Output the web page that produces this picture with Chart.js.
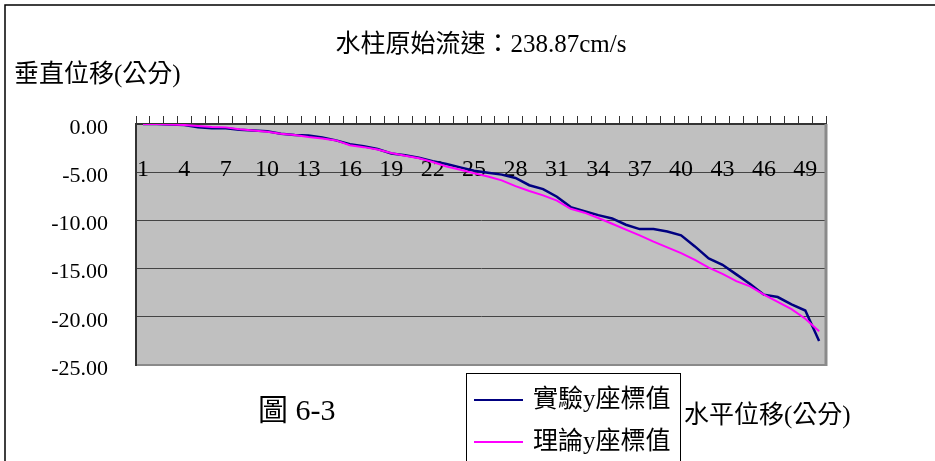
<!DOCTYPE html>
<html>
<head>
<meta charset="utf-8">
<script src="https://cdn.jsdelivr.net/npm/chart.js@4/dist/chart.umd.min.js"></script>
<style>
  html, body { margin: 0; padding: 0; background: #fff; }
  #wrap { width: 935px; height: 461px; position: relative; }
</style>
</head>
<body>
<div id="wrap"><canvas id="c" width="935" height="461"></canvas></div>
<script>
// Horizontal position index (公分) along the jet
const positions = ['1','2','3','4','5','6','7','8','9','10',
  '11','12','13','14','15','16','17','18','19','20',
  '21','22','23','24','25','26','27','28','29','30',
  '31','32','33','34','35','36','37','38','39','40',
  '41','42','43','44','45','46','47','48','49','50'];

// Measured vertical displacement (公分)
const experimental = [0, 0, -0.05, -0.1, -0.35, -0.45, -0.45, -0.6, -0.68, -0.75,
  -1.0, -1.15, -1.2, -1.4, -1.7, -2.1, -2.3, -2.6, -3.05, -3.25,
  -3.5, -3.85, -4.15, -4.5, -4.85, -5.05, -5.25, -5.6, -6.35, -6.75,
  -7.55, -8.62, -9.05, -9.45, -9.8, -10.45, -10.9, -10.9, -11.15, -11.55,
  -12.7, -13.95, -14.6, -15.6, -16.6, -17.7, -17.95, -18.7, -19.35, -22.5];

// Theoretical vertical displacement (公分)
const theoretical = [0, 0, -0.05, -0.1, -0.2, -0.3, -0.35, -0.55, -0.68, -0.8,
  -1.0, -1.15, -1.35, -1.5, -1.7, -2.2, -2.4, -2.65, -3.0, -3.3,
  -3.55, -3.95, -4.4, -4.75, -5.1, -5.45, -5.85, -6.45, -6.95, -7.4,
  -7.95, -8.8, -9.2, -9.75, -10.35, -10.95, -11.55, -12.2, -12.8, -13.4,
  -14.1, -14.9, -15.55, -16.3, -16.85, -17.7, -18.45, -19.2, -20.2, -21.5];

const yTicks = [0, -5, -10, -15, -20, -25];
const seriesNames = ['實驗y座標值', '理論y座標值'];
const seriesColors = ['#000080', '#FF00FF'];

const chartTitle = '水柱原始流速：238.87cm/s';
const yAxisTitle = '垂直位移(公分)';
const xAxisTitle = '水平位移(公分)';
const caption = '圖 6-3';

const SERIF = '"Liberation Serif", "Times New Roman", serif';
const MIXED = '"Liberation Serif", "Noto Sans CJK TC", serif';

// Background, frame, plot fill, captions and a boxed legend
const decorations = {
  id: 'decorations',
  beforeDraw(chart) {
    const { ctx, chartArea: a } = chart;
    ctx.save();
    ctx.fillStyle = '#fff';
    ctx.fillRect(0, 0, chart.width, chart.height);
    ctx.fillStyle = '#C0C0C0';
    ctx.fillRect(a.left, a.top, a.right - a.left, a.bottom - a.top);
    ctx.strokeStyle = '#000';
    ctx.lineWidth = 1.5;
    ctx.beginPath();
    ctx.moveTo(5, chart.height);
    ctx.lineTo(5, 5);
    ctx.lineTo(chart.width, 5);
    ctx.stroke();
    ctx.restore();
  },
  afterDraw(chart) {
    const { ctx, chartArea: a } = chart;
    ctx.save();
    // shaded right edge of the plot
    ctx.strokeStyle = '#8a8a8a';
    ctx.lineWidth = 3;
    ctx.beginPath();
    ctx.moveTo(a.right, a.top);
    ctx.lineTo(a.right, a.bottom + 1);
    ctx.stroke();

    ctx.fillStyle = '#000';
    ctx.textBaseline = 'middle';
    ctx.font = '25px ' + MIXED;
    ctx.textAlign = 'center';
    ctx.fillText(chartTitle, 481, 45);
    ctx.textAlign = 'left';
    ctx.fillText(yAxisTitle, 14, 75);
    ctx.fillText(xAxisTitle, 684, 416);
    ctx.font = '30px ' + MIXED;
    ctx.fillText(caption, 258, 412);

    // legend box
    ctx.strokeStyle = '#000';
    ctx.lineWidth = 1;
    ctx.strokeRect(466.5, 373.5, 214, 100);
    ctx.font = '25px ' + MIXED;
    const rows = [400, 442];
    chart.data.datasets.forEach((ds, i) => {
      const y = rows[i];
      ctx.strokeStyle = ds.borderColor;
      ctx.lineWidth = 2;
      ctx.beginPath();
      ctx.moveTo(474, y);
      ctx.lineTo(523, y);
      ctx.stroke();
      ctx.fillStyle = '#000';
      ctx.fillText(ds.label, 533, y);
    });
    ctx.restore();
  }
};

new Chart(document.getElementById('c'), {
  type: 'line',
  data: {
    labels: positions,
    datasets: [
      { label: seriesNames[0], data: experimental, borderColor: seriesColors[0], borderWidth: 2.5,
        pointRadius: 0, tension: 0, fill: false, order: 1 },
      { label: seriesNames[1], data: theoretical, borderColor: seriesColors[1], borderWidth: 2,
        pointRadius: 0, tension: 0, fill: false, order: 0 }
    ]
  },
  options: {
    responsive: false,
    animation: false,
    devicePixelRatio: 1,
    layout: { padding: { left: 0, top: 112, right: 109, bottom: 96 } },
    plugins: { legend: { display: false }, tooltip: { enabled: false }, title: { display: false } },
    scales: {
      x: {
        type: 'category',
        position: 'top',
        offset: true,
        grid: { offset: true, drawOnChartArea: false, drawTicks: true, tickLength: 8, color: '#333', lineWidth: 1 },
        border: { display: true, color: '#333', width: 2 },
        ticks: {
          autoSkip: false, maxRotation: 0, minRotation: 0, mirror: true, padding: 31,
          color: '#000', font: { family: SERIF, size: 24 },
          callback: function (v, i) { return i % 3 === 0 ? this.getLabelForValue(v) : ''; }
        },
        afterFit: s => { s.height = 12; }
      },
      y: {
        min: -25, max: 0,
        afterBuildTicks: s => { s.ticks = yTicks.map(v => ({ value: v })); },
        grid: {
          drawTicks: false,
          color: c => (c.tick && c.tick.value === -25) ? '#8a8a8a' : '#444',
          lineWidth: c => (c.tick && c.tick.value === -25) ? 2 : 1
        },
        border: { color: '#333', width: 2 },
        ticks: {
          padding: 28, labelOffset: 4, color: '#000',
          font: { family: SERIF, size: 22 },
          callback: v => Number(v).toFixed(2)
        },
        afterFit: s => { s.width = 136; }
      }
    }
  },
  plugins: [decorations]
});
</script>
</body>
</html>
